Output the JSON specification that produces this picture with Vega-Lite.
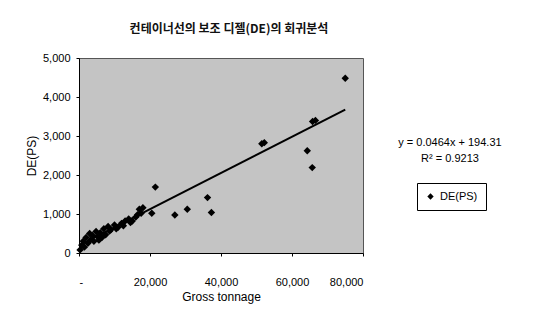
{
  "$schema": "https://vega.github.io/schema/vega-lite/v6.json",
  "width": 284,
  "height": 195,
  "autosize": {"type": "none"},
  "padding": {"left": 79, "top": 58, "right": 182, "bottom": 66},
  "background": "white",
  "config": {
    "view": {"fill": "#c4c4c4", "stroke": "#555", "strokeWidth": 1},
    "font": "Liberation Sans, sans-serif"
  },
  "title": {
    "text": "컨테이너선의 보조 디젤(DE)의 회귀분석",
    "font": "Noto Sans CJK KR",
    "fontSize": 12,
    "fontWeight": "bold",
    "color": "#111",
    "anchor": "middle",
    "dx": 8,
    "offset": 16
  },
  "datasets": {
    "pts": [
      {"gt": 300, "de": 80}, {"gt": 800, "de": 200}, {"gt": 1200, "de": 300},
      {"gt": 1500, "de": 150}, {"gt": 2000, "de": 400}, {"gt": 2500, "de": 250},
      {"gt": 3000, "de": 500}, {"gt": 3200, "de": 330}, {"gt": 3800, "de": 450},
      {"gt": 4200, "de": 300}, {"gt": 4800, "de": 550}, {"gt": 5200, "de": 420},
      {"gt": 5600, "de": 330}, {"gt": 6000, "de": 520}, {"gt": 6500, "de": 400},
      {"gt": 7000, "de": 620}, {"gt": 7500, "de": 470}, {"gt": 8200, "de": 680},
      {"gt": 8600, "de": 560}, {"gt": 9000, "de": 600}, {"gt": 10000, "de": 720},
      {"gt": 10500, "de": 620}, {"gt": 11000, "de": 660}, {"gt": 12000, "de": 760},
      {"gt": 12500, "de": 700}, {"gt": 13000, "de": 820}, {"gt": 14000, "de": 870},
      {"gt": 14500, "de": 780}, {"gt": 15000, "de": 820}, {"gt": 16000, "de": 920},
      {"gt": 16500, "de": 980}, {"gt": 17000, "de": 1120}, {"gt": 17500, "de": 1020},
      {"gt": 18000, "de": 1160}, {"gt": 20500, "de": 1020}, {"gt": 21500, "de": 1690},
      {"gt": 27000, "de": 975}, {"gt": 30500, "de": 1120}, {"gt": 36200, "de": 1420},
      {"gt": 37300, "de": 1040}, {"gt": 51500, "de": 2800}, {"gt": 52200, "de": 2830},
      {"gt": 64300, "de": 2620}, {"gt": 65700, "de": 2190}, {"gt": 65800, "de": 3370},
      {"gt": 66600, "de": 3400}, {"gt": 75000, "de": 4480}
    ],
    "trend": [{"gt": 0, "de": 194.31}, {"gt": 75000, "de": 3674.31}],
    "notes": [
      {"gt": 104500, "de": 2820, "label": "y = 0.0464x + 194.31"},
      {"gt": 104500, "de": 2410, "label": "R² = 0.9213"}
    ]
  },
  "encoding": {
    "x": {
      "field": "gt", "type": "quantitative",
      "scale": {"domain": [0, 80000], "nice": false},
      "axis": {
        "title": "Gross tonnage", "values": [0, 20000, 40000, 60000, 80000],
        "labelExpr": "datum.value == 0 ? '-' : format(datum.value, ',')",
        "labelOverlap": false,
        "grid": false, "domainColor": "#000", "tickColor": "#000", "tickSize": 3,
        "labelFontSize": 11, "labelColor": "#000", "labelPadding": 20,
        "titleFontSize": 12, "titleFontWeight": "normal", "titleColor": "#000", "titlePadding": 4
      }
    },
    "y": {
      "field": "de", "type": "quantitative",
      "scale": {"domain": [0, 5000], "nice": false},
      "axis": {
        "title": "DE(PS)", "values": [0, 1000, 2000, 3000, 4000, 5000],
        "labelExpr": "format(datum.value, ',')",
        "labelOverlap": false,
        "grid": false, "domainColor": "#000", "tickColor": "#000", "tickSize": 3,
        "labelFontSize": 11, "labelColor": "#000", "labelPadding": 6,
        "titleFontSize": 12, "titleFontWeight": "normal", "titleColor": "#000", "titlePadding": 4
      }
    }
  },
  "layer": [
    {
      "data": {"name": "pts"},
      "mark": {"type": "point", "shape": "diamond", "filled": true, "size": 55, "opacity": 1},
      "encoding": {
        "color": {
          "datum": "DE(PS)",
          "scale": {"range": ["#000"]},
          "legend": {
            "title": null, "orient": "none", "legendX": 338, "legendY": 125,
            "symbolType": "diamond", "symbolSize": 40, "strokeColor": "#000",
            "fillColor": "white", "padding": 8, "labelFontSize": 11, "labelColor": "#000"
          }
        }
      }
    },
    {
      "data": {"name": "trend"},
      "mark": {"type": "line", "color": "#000", "strokeWidth": 2},
      "encoding": {}
    },
    {
      "data": {"name": "notes"},
      "mark": {"type": "text", "clip": false, "fontSize": 11, "color": "#000", "align": "center"},
      "encoding": {
        "text": {"field": "label"}
      }
    }
  ]
}
